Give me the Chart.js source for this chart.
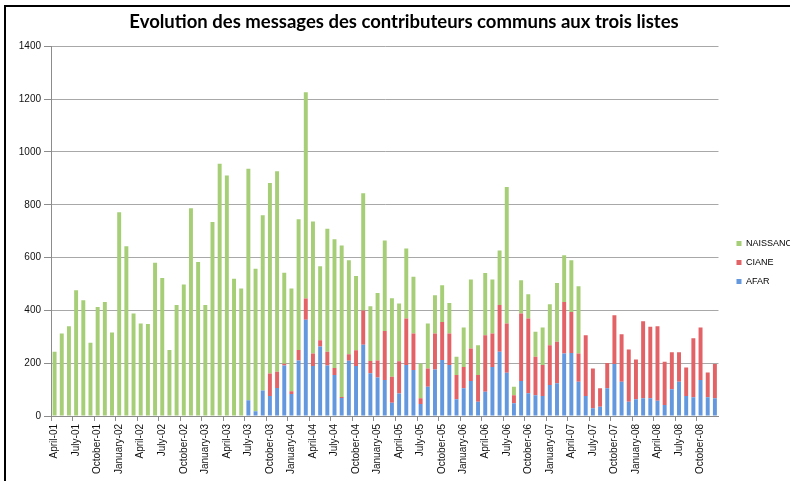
<!DOCTYPE html>
<html>
<head>
<meta charset="utf-8">
<script src="https://cdn.jsdelivr.net/npm/chart.js@4.4.0/dist/chart.umd.min.js"></script>
<style>
html, body { margin: 0; padding: 0; background: #fff; overflow: hidden; }
#wrap { position: relative; width: 790px; height: 481px; overflow: hidden; }
#c { position: absolute; left: 0; top: 0; }
#frame { position: absolute; left: 4px; top: 5px; width: 800px; height: 500px; border-left: 2px solid #000; border-top: 2px solid #000; pointer-events: none; }
</style>
</head>
<body>
<div id="wrap">
<canvas id="c" width="808" height="525"></canvas>
<div id="frame"></div>
</div>
<script>
const months = [
  "April-01","May-01","June-01","July-01","August-01","September-01","October-01","November-01","December-01",
  "January-02","February-02","March-02","April-02","May-02","June-02","July-02","August-02","September-02","October-02","November-02","December-02",
  "January-03","February-03","March-03","April-03","May-03","June-03","July-03","August-03","September-03","October-03","November-03","December-03",
  "January-04","February-04","March-04","April-04","May-04","June-04","July-04","August-04","September-04","October-04","November-04","December-04",
  "January-05","February-05","March-05","April-05","May-05","June-05","July-05","August-05","September-05","October-05","November-05","December-05",
  "January-06","February-06","March-06","April-06","May-06","June-06","July-06","August-06","September-06","October-06","November-06","December-06",
  "January-07","February-07","March-07","April-07","May-07","June-07","July-07","August-07","September-07","October-07","November-07","December-07",
  "January-08","February-08","March-08","April-08","May-08","June-08","July-08","August-08","September-08","October-08","November-08","December-08"
];

const tickLabels = [
  "April-01","July-01","October-01",
  "January-02","April-02","July-02","October-02",
  "January-03","April-03","July-03","October-03",
  "January-04","April-04","July-04","October-04",
  "January-05","April-05","July-05","October-05",
  "January-06","April-06","July-06","October-06",
  "January-07","April-07","July-07","October-07",
  "January-08","April-08","July-08","October-08"
];

const afar = [
  0,0,0,0,0,0,0,0,0,
  0,0,0,0,0,0,0,0,0,0,0,0,
  0,0,0,0,0,0,60,18,97,76,106,191,
  83,210,365,189,263,191,155,68,209,189,270,162,
  146,136,50,85,193,174,45,111,176,212,193,63,
  105,133,54,92,186,243,164,48,133,86,79,76,
  117,124,237,239,130,76,29,35,105,197,130,54,
  63,67,67,58,42,101,130,76,71,136,71,67
];

const ciane = [
  0,0,0,0,0,0,0,0,0,
  0,0,0,0,0,0,0,0,0,0,0,0,
  0,0,0,0,0,0,0,0,0,85,62,7,
  11,40,80,48,24,52,27,4,25,60,130,46,
  64,186,99,122,176,138,22,69,136,144,119,92,
  81,123,101,214,126,177,186,31,255,283,145,117,
  151,157,195,155,107,230,151,70,96,185,180,198,
  151,292,271,282,163,140,111,108,223,199,94,130
];

const naissance = [
  243,312,340,476,438,277,413,432,316,
  772,643,388,350,348,580,523,250,420,498,787,583,
  420,735,955,911,520,483,876,540,663,721,759,345,
  389,495,781,500,280,466,487,574,356,281,444,208,
  256,343,297,219,265,215,132,170,145,139,116,69,
  149,261,113,236,205,207,517,32,126,92,95,142,
  155,223,177,196,254,0,0,0,0,0,0,0,
  0,0,0,0,0,0,0,0,0,0,0,0
];

const yTicks = [0, 200, 400, 600, 800, 1000, 1200, 1400];
const seriesNames = ["AFAR", "CIANE", "NAISSANCE"];
const seriesColors = ["rgb(100,152,222)", "rgb(226,98,102)", "rgb(166,206,118)"];
const titleText = "Evolution des messages des contributeurs communs aux trois listes";

const tickFont = { family: "'Liberation Sans', Arial, sans-serif", size: 10 };

new Chart(document.getElementById("c"), {
  type: "bar",
  data: {
    labels: months,
    datasets: [
      { label: seriesNames[0], data: afar, backgroundColor: seriesColors[0] },
      { label: seriesNames[1], data: ciane, backgroundColor: seriesColors[1] },
      { label: seriesNames[2], data: naissance, backgroundColor: seriesColors[2] }
    ]
  },
  options: {
    responsive: false,
    animation: false,
    layout: { padding: 0 },
    datasets: { bar: { barPercentage: 0.55, categoryPercentage: 1, borderWidth: 0 } },
    plugins: {
      title: {
        display: true,
        text: titleText,
        color: "#000",
        font: { family: "Lato, 'Liberation Sans', sans-serif", weight: "bold", size: 18.5, lineHeight: 1.1 },
        padding: { top: 12, bottom: 14 }
      },
      legend: {
        position: "right",
        reverse: true,
        maxWidth: 84,
        labels: {
          boxWidth: 5,
          boxHeight: 5,
          padding: 10,
          color: "#000",
          font: { family: "'Liberation Sans', Arial, sans-serif", size: 9 }
        }
      },
      tooltip: { enabled: false }
    },
    scales: {
      x: {
        stacked: true,
        offset: true,
        grid: {
          offset: true,
          drawOnChartArea: false,
          drawTicks: true,
          tickLength: 5,
          color: (c) => (c.index % 3 === 0 ? "#8c8c8c" : "rgba(0,0,0,0)"),
          tickColor: (c) => (c.index % 3 === 0 ? "#8c8c8c" : "rgba(0,0,0,0)")
        },
        border: { display: true, color: "#8c8c8c" },
        ticks: {
          autoSkip: false,
          minRotation: 90,
          maxRotation: 90,
          padding: 3,
          color: "#111",
          font: tickFont,
          callback: function (value, index) {
            const lab = months[index];
            return tickLabels.includes(lab) ? lab : "";
          }
        },
        afterFit: (s) => { s.height = 109; }
      },
      y: {
        stacked: true,
        min: yTicks[0],
        max: yTicks[yTicks.length - 1],
        afterBuildTicks: (s) => { s.ticks = yTicks.map((v) => ({ value: v })); },
        ticks: { color: "#111", font: tickFont, padding: 3, callback: (v) => String(v) },
        grid: { color: "#a8a8a8", tickLength: 7, drawTicks: true, tickColor: "#8c8c8c" },
        border: { display: true, color: "#8c8c8c" },
        afterFit: (s) => { s.width = 51; }
      },
      y2: {
        position: "right",
        display: true,
        grid: { display: false },
        border: { display: false },
        ticks: { display: false },
        afterFit: (s) => { s.width = 8; }
      }
    }
  }
});
</script>
</body>
</html>
